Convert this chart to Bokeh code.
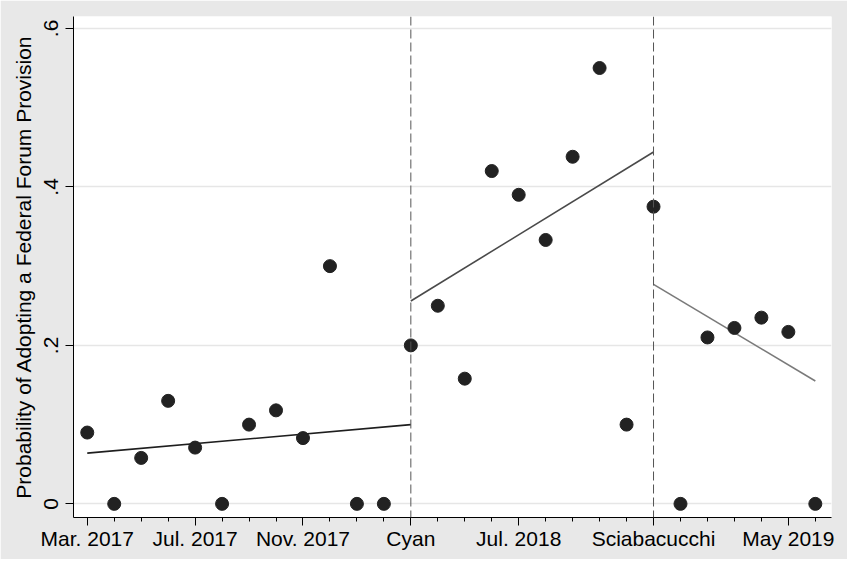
import math
from bokeh.plotting import figure
from bokeh.models import FixedTicker, Span, ColumnDataSource
from bokeh.embed import file_html
from bokeh.resources import INLINE

# ---- data ----
month_index = list(range(28))  # 0 = Mar. 2017 ... 27 = Jun. 2019
probability = [0.09, 0.0, 0.058, 0.13, 0.071, 0.0, 0.1, 0.118, 0.083, 0.3,
               0.0, 0.0, 0.2, 0.25, 0.158, 0.42, 0.39, 0.333, 0.438, 0.55,
               0.1, 0.375, 0.0, 0.21, 0.222, 0.235, 0.217, 0.0]

tick_months = [0, 4, 8, 12, 16, 21, 26]
tick_labels = ["Mar. 2017", "Jul. 2017", "Nov. 2017", "Cyan", "Jul. 2018",
               "Sciabacucchi", "May 2019"]

cutoffs = [12, 21]  # Cyan (Mar. 2018), Sciabacucchi (Dec. 2018)

fit_x_start = [0, 12, 21]
fit_x_end = [12, 21, 27]
fit_y_start = [0.064, 0.256, 0.277]
fit_y_end = [0.100, 0.444, 0.155]
fit_colors = ["#1e1e1e", "#4a4a4a", "#7a7a7a"]

y_ticks = [0, 0.2, 0.4, 0.6]
y_tick_labels = ["0", ".2", ".4", ".6"]

FONT = "Liberation Sans"
BG = "#E8E8E8"

p = figure(width=847, height=559, output_backend="svg", toolbar_location=None,
           x_range=(-0.51, 27.6), y_range=(-0.0172, 0.615),
           min_border_left=73, min_border_right=16, min_border_top=16,
           min_border_bottom=42)
p.border_fill_color = BG
p.background_fill_color = "white"
p.outline_line_color = None

# grid
p.xgrid.grid_line_color = None
p.ygrid.ticker = FixedTicker(ticks=y_ticks)
p.ygrid.grid_line_color = "#E6E6E6"
p.ygrid.grid_line_width = 1.5

# x axis
p.xaxis.ticker = FixedTicker(ticks=tick_months, minor_ticks=month_index)
p.xaxis.major_label_overrides = {m: l for m, l in zip(tick_months, tick_labels)}
p.xaxis.major_label_text_font = FONT
p.xaxis.major_label_text_font_size = "21px"
p.xaxis.major_label_text_color = "black"
p.xaxis.major_tick_out = 8
p.xaxis.major_tick_in = 0
p.xaxis.minor_tick_out = 4
p.xaxis.minor_tick_in = 0
p.xaxis.major_label_standoff = 1
p.xaxis.axis_line_color = "black"
p.xaxis.major_tick_line_color = "black"
p.xaxis.minor_tick_line_color = "black"

# y axis
p.yaxis.ticker = FixedTicker(ticks=y_ticks)
p.yaxis.major_label_overrides = {t: l for t, l in zip(y_ticks, y_tick_labels)}
p.yaxis.major_label_orientation = "vertical"
p.yaxis.major_label_text_font = FONT
p.yaxis.major_label_text_font_size = "21px"
p.yaxis.major_label_text_color = "black"
p.yaxis.major_tick_out = 8
p.yaxis.major_tick_in = 0
p.yaxis.minor_tick_line_color = None
p.yaxis.major_label_standoff = 7
p.yaxis.axis_label = "Probability of Adopting a Federal Forum Provision"
p.yaxis.axis_label_text_font = FONT
p.yaxis.axis_label_text_font_size = "21px"
p.yaxis.axis_label_text_font_style = "normal"
p.yaxis.axis_label_text_color = "black"
p.yaxis.axis_label_standoff = 7
p.yaxis.axis_line_color = "black"

# cutoff lines
for c in cutoffs:
    p.add_layout(Span(location=c, dimension="height", line_color="#555555",
                      line_width=1, line_dash="9 4"))

# fitted lines
for xs, xe, ys, ye, col in zip(fit_x_start, fit_x_end, fit_y_start, fit_y_end, fit_colors):
    p.line([xs, xe], [ys, ye], line_color=col, line_width=1.6)

# points
src = ColumnDataSource(dict(x=month_index, y=probability))
p.scatter("x", "y", source=src, size=13, fill_color="#222222", line_color="#222222")

open("out.html", "w").write(file_html(p, INLINE))
